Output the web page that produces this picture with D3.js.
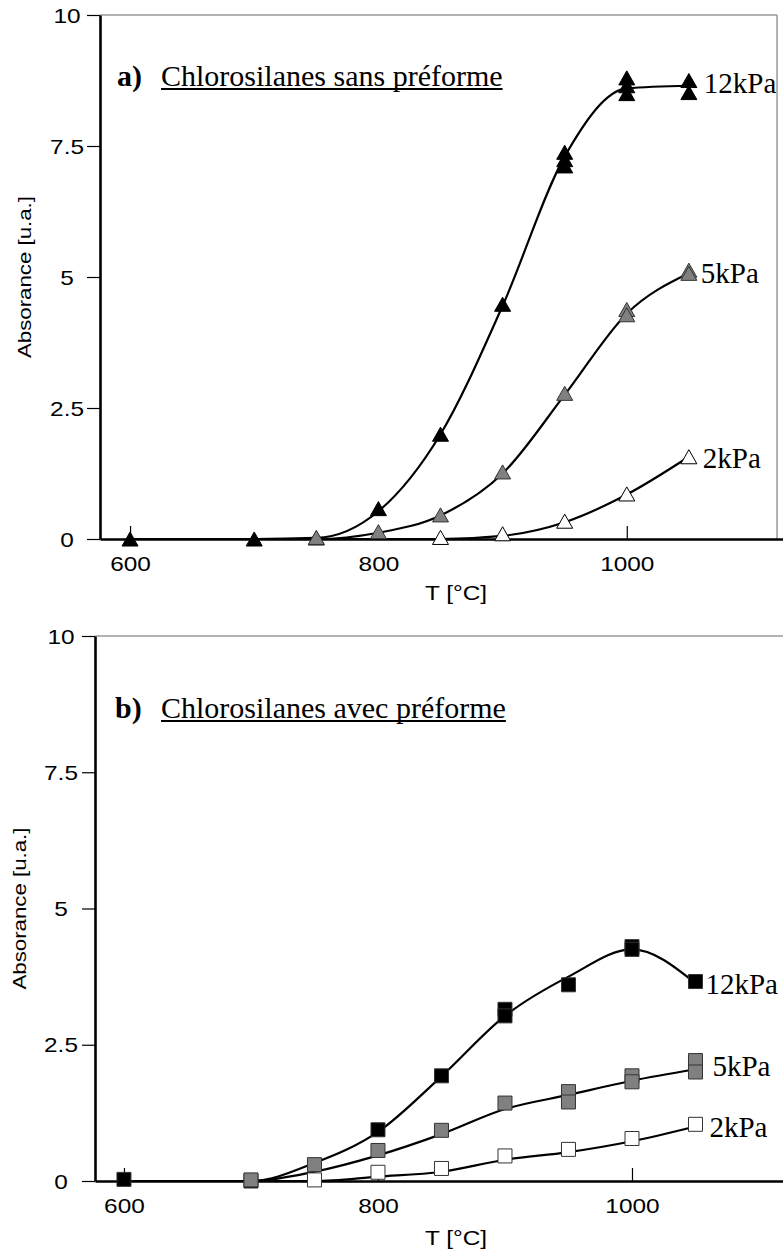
<!DOCTYPE html>
<html><head><meta charset="utf-8">
<script src="https://cdn.jsdelivr.net/npm/d3@7"></script>
<style>html,body{margin:0;padding:0;background:#fff;} svg{display:block;}</style>
</head><body>
<svg id="c" width="783" height="1252"></svg>
<script>
// ---------------- data ----------------
const xTicks = [600, 800, 1000];
const yTicks = [0, 2.5, 5, 7.5, 10];
const yTickLabels = ["0", "2.5", "5", "7.5", "10"];
const xLabel = "T [°C]";
const yLabel = "Absorance [u.a.]";
const seriesNames = ["12kPa", "5kPa", "2kPa"];
const titleA = ["a)", "Chlorosilanes sans préforme"];
const titleB = ["b)", "Chlorosilanes avec préforme"];

// panel a (triangles): [T °C, absorbance]
const a12Points = [[600,0],[700,0],[750,0.02],[800,0.58],[850,2.0],[900,4.48],[950,7.38],[950,7.24],[950,7.12],[1000,8.8],[1000,8.65],[1000,8.5],[1050,8.75],[1050,8.52]];
const a5Points  = [[750,0.03],[800,0.14],[850,0.46],[900,1.28],[950,2.78],[1000,4.38],[1000,4.28],[1050,5.13],[1050,5.07]];
const a2Points  = [[850,0.03],[900,0.1],[950,0.34],[1000,0.86],[1050,1.57]];
const a12Fit = [[600,0],[700,0],[750,0.02],[800,0.53],[850,2.0],[900,4.45],[950,7.3],[1000,8.6],[1050,8.65]];
const a5Fit  = [[600,0],[750,0],[800,0.12],[850,0.45],[900,1.25],[950,2.75],[1000,4.3],[1050,5.07]];
const a2Fit  = [[600,0],[850,0],[900,0.06],[950,0.32],[1000,0.85],[1050,1.57]];

// panel b (squares)
const b12Points = [[600,0.03],[700,0],[800,0.94],[850,1.93],[900,3.15],[900,3.03],[950,3.6],[1000,4.3],[1000,4.25],[1050,3.66]];
const b5Points  = [[700,0.02],[750,0.3],[800,0.56],[850,0.93],[900,1.43],[950,1.64],[950,1.45],[1000,1.93],[1000,1.82],[1050,2.21],[1050,2.0]];
const b2Points  = [[750,0.02],[800,0.16],[850,0.23],[900,0.46],[950,0.58],[1000,0.78],[1050,1.04]];
const b12Fit = [[600,0],[700,0],[750,0.33],[800,0.9],[850,1.92],[900,3.03],[950,3.75],[1000,4.25],[1050,3.63]];
const b5Fit  = [[600,0],[700,0],[750,0.17],[800,0.47],[850,0.86],[900,1.32],[950,1.58],[1000,1.84],[1050,2.05]];
const b2Fit  = [[600,0],[750,0],[800,0.08],[850,0.17],[900,0.39],[950,0.53],[1000,0.73],[1050,1.0]];

// ---------------- drawing ----------------
const SANS = "'Liberation Sans', Arial, sans-serif";
const SERIF = "'Liberation Serif', 'Times New Roman', serif";
const STRETCH = 1.22;
const svg = d3.select("#c");

const triangle = { draw(ctx, w) { const h = w * 0.88; ctx.moveTo(0, -h/2); ctx.lineTo(w/2, h/2); ctx.lineTo(-w/2, h/2); ctx.closePath(); } };
const square = { draw(ctx, w) { ctx.rect(-w/2, -w/2, w, w); } };

function panel(cfg) {
  const x = d3.scaleLinear().domain(cfg.xDomain).range(cfg.xRange);
  const y = d3.scaleLinear().domain([0, 10]).range(cfg.yRange);
  const g = svg.append("g");
  const [x0, x1] = cfg.xRange, [y0, y1] = cfg.yRange;

  // frame (gray) top and right
  const topEnd = cfg.frameRight ? x(cfg.frameRight) : x1 + 5;
  g.append("line").attr("x1", x0).attr("x2", topEnd).attr("y1", y1).attr("y2", y1)
    .attr("stroke", "#9a9a9a").attr("stroke-width", 1.5);
  if (cfg.frameRight) g.append("line").attr("x1", x(cfg.frameRight)).attr("x2", x(cfg.frameRight))
    .attr("y1", y1).attr("y2", y0).attr("stroke", "#9a9a9a").attr("stroke-width", 1.5);

  // x axis
  const gx = g.append("g").attr("transform", `translate(0,${y0})`)
    .call(d3.axisBottom(x).tickValues(xTicks).tickSizeInner(-13).tickSizeOuter(0).tickPadding(18).tickFormat(d3.format("d")));
  gx.select(".domain").attr("stroke", "#000").attr("stroke-width", 2.6);
  gx.selectAll(".tick line").attr("stroke", "#000").attr("stroke-width", 1.2);
  gx.selectAll("text").attr("font-family", SANS).attr("font-size", 20).attr("fill", "#000")
    .attr("transform", `scale(${STRETCH},1)`);

  // y axis
  const gy = g.append("g").attr("transform", `translate(${x0},0)`)
    .call(d3.axisLeft(y).tickValues(yTicks).tickSize(13).tickSizeOuter(0).tickFormat((d, i) => yTickLabels[i]));
  gy.select(".domain").attr("stroke", "#000").attr("stroke-width", 2.6);
  gy.selectAll(".tick line").attr("stroke", "#000").attr("stroke-width", 1.2);
  gy.selectAll("text").attr("font-family", SANS).attr("font-size", 20).attr("fill", "#000")
    .attr("text-anchor", "middle").attr("x", -cfg.yLabelOffset / STRETCH).attr("dy", "0.36em")
    .attr("transform", `scale(${STRETCH},1)`);

  // axis titles
  g.append("text").attr("x", cfg.xTitle[0] / STRETCH).attr("y", cfg.xTitle[1])
    .attr("transform", `scale(${STRETCH},1)`).attr("text-anchor", "middle")
    .attr("font-family", SANS).attr("font-size", 20).text(xLabel);
  g.append("text").attr("transform", `translate(${cfg.yTitleX},${y(5)}) rotate(-90)`)
    .attr("text-anchor", "middle").attr("dy", "0.35em")
    .attr("font-family", SANS).attr("font-size", 18).attr("textLength", 162).attr("lengthAdjust", "spacingAndGlyphs")
    .text(yLabel);

  // panel title
  g.append("text").attr("x", cfg.titleX[0]).attr("y", cfg.titleY).attr("font-family", SERIF)
    .attr("font-size", 30).attr("font-weight", "bold").text(cfg.title[0]);
  const tt = g.append("text").attr("x", cfg.titleX[1]).attr("y", cfg.titleY).attr("font-family", SERIF)
    .attr("font-size", 30).text(cfg.title[1]);
  const tw = tt.node().getComputedTextLength();
  g.append("line").attr("x1", cfg.titleX[1]).attr("x2", cfg.titleX[1] + tw)
    .attr("y1", cfg.titleY + 3).attr("y2", cfg.titleY + 3).attr("stroke", "#000").attr("stroke-width", 2);

  // fitted curves
  const line = d3.line().x(d => x(d[0])).y(d => y(d[1])).curve(d3.curveMonotoneX);
  cfg.fits.forEach(f => g.append("path").attr("d", line(f)).attr("fill", "none")
    .attr("stroke", "#000").attr("stroke-width", 2.2));

  // markers
  cfg.markerOrder.forEach(i => {
    const s = cfg.series[i];
    g.selectAll(null).data(s.points).enter().append("path")
      .attr("d", d3.symbol(cfg.symbol, cfg.symbolSize)())
      .attr("transform", d => `translate(${x(d[0])},${y(d[1])})`)
      .attr("fill", s.fill).attr("stroke", s.stroke).attr("stroke-width", 1);
  });

  // series labels
  cfg.series.forEach((s, i) => {
    const last = s.points[s.points.length - 1];
    g.append("text").attr("x", x(last[0]) + cfg.labelDx[i]).attr("y", cfg.labelY[i])
      .attr("font-family", SERIF).attr("font-size", 29).attr("fill", "#000").text(seriesNames[i]);
  });
}

panel({
  xDomain: [575.8, 1125.8], xRange: [100, 783], yRange: [539, 15], frameRight: 1121,
  yLabelOffset: 33, xTitle: [456, 600], yTitleX: 25,
  title: titleA, titleX: [117, 161], titleY: 86,
  symbol: triangle, symbolSize: 16,
  series: [
    { points: a12Points, fill: "#000", stroke: "#000" },
    { points: a5Points, fill: "#808080", stroke: "#333" },
    { points: a2Points, fill: "#fff", stroke: "#000" }
  ],
  fits: [a12Fit, a5Fit, a2Fit], markerOrder: [0, 1, 2],
  labelDx: [15, 12, 14], labelY: [93, 283, 468]
});

panel({
  xDomain: [577.2, 1118.9], xRange: [95, 783], yRange: [1181, 636], frameRight: null,
  yLabelOffset: 34, xTitle: [456, 1245], yTitleX: 20,
  title: titleB, titleX: [115, 161], titleY: 718,
  symbol: square, symbolSize: 14,
  series: [
    { points: b12Points, fill: "#000", stroke: "#333" },
    { points: b5Points, fill: "#808080", stroke: "#333" },
    { points: b2Points, fill: "#fff", stroke: "#333" }
  ],
  fits: [b12Fit, b5Fit, b2Fit], markerOrder: [0, 2, 1],
  labelDx: [10, 17, 14], labelY: [994, 1076, 1137]
});
</script>
</body></html>
